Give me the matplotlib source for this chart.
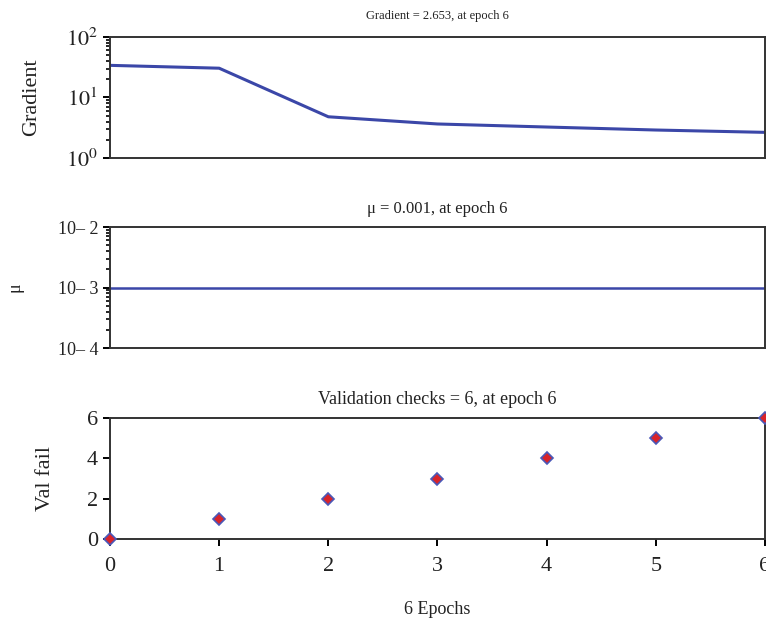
import matplotlib
matplotlib.use("Agg")
import matplotlib.pyplot as plt
from matplotlib.ticker import LogLocator, FixedLocator, FixedFormatter, NullFormatter

plt.rcParams['font.family'] = ['Liberation Serif', 'DejaVu Serif']
plt.rcParams['mathtext.fontset'] = 'stix'

# training record
epochs = [0, 1, 2, 3, 4, 5, 6]
gradient = [34.0, 30.5, 4.8, 3.65, 3.25, 2.9, 2.653]
mu = [0.001, 0.001, 0.001, 0.001, 0.001, 0.001, 0.001]
val_fail = [0, 1, 2, 3, 4, 5, 6]

line_col = '#3b47a8'
spine_col = '#333333'
txt_col = '#222222'

fig = plt.figure(figsize=(7.66, 6.21), dpi=100)
left, width = 0.1436, 0.855
ax1 = fig.add_axes([left, 0.7456, width, 0.1948])
ax2 = fig.add_axes([left, 0.4396, width, 0.1948])
ax3 = fig.add_axes([left, 0.132, width, 0.1948])

for ax in (ax1, ax2, ax3):
    ax.set_xlim(0, 6)
    for s in ax.spines.values():
        s.set_color(spine_col)
        s.set_linewidth(1.4)
    ax.tick_params(axis='both', which='both', direction='out', colors='black',
                   labelcolor=txt_col, labelsize=16)
    ax.tick_params(which='major', length=5, width=1.4)
    ax.tick_params(which='minor', length=3, width=1.2)

# gradient
ax1.semilogy(epochs, gradient, color=line_col, lw=2.2)
ax1.set_ylim(1, 100)
ax1.yaxis.set_major_locator(FixedLocator([1, 10, 100]))
ax1.yaxis.set_major_formatter(FixedFormatter([r'$10^0$', r'$10^1$', r'$10^2$']))
ax1.yaxis.set_minor_locator(LogLocator(base=10, subs=range(2, 10)))
ax1.yaxis.set_minor_formatter(NullFormatter())
ax1.set_xticks([])
ax1.set_title('Gradient = 2.653, at epoch 6', fontsize=9, color=txt_col, pad=13)
ax1.set_ylabel('Gradient', fontsize=16, color=txt_col)
ax1.yaxis.set_label_coords(-0.105, 0.5)

# mu
ax2.semilogy(epochs, mu, color=line_col, lw=1.8)
ax2.set_ylim(1e-4, 1e-2)
ax2.yaxis.set_major_locator(FixedLocator([1e-4, 1e-3, 1e-2]))
ax2.yaxis.set_major_formatter(FixedFormatter(['10– 4', '10– 3', '10– 2']))
ax2.yaxis.set_minor_locator(LogLocator(base=10, subs=range(2, 10)))
ax2.yaxis.set_minor_formatter(NullFormatter())
ax2.tick_params(axis='y', labelsize=13)
ax2.set_xticks([])
ax2.set_title('μ = 0.001, at epoch 6', fontsize=12, color=txt_col, pad=10)
ax2.set_ylabel('μ', fontsize=13, color=txt_col)
ax2.yaxis.set_label_coords(-0.132, 0.5)

# validation checks
ax3.plot(epochs, val_fail, linestyle='none', marker='D', markersize=6,
         markerfacecolor='#d8232a', markeredgecolor='#4a58b8', markeredgewidth=1.2,
         clip_on=False, zorder=5)
ax3.set_ylim(0, 6)
ax3.set_yticks([0, 2, 4, 6])
ax3.set_xticks(epochs)
ax3.tick_params(axis='x', pad=8)
ax3.set_title('Validation checks = 6, at epoch 6', fontsize=13, color=txt_col, pad=10)
ax3.set_ylabel('Val fail', fontsize=16, color=txt_col)
ax3.yaxis.set_label_coords(-0.084, 0.5)
ax3.set_xlabel('6 Epochs', fontsize=13, color=txt_col, labelpad=18)

fig.savefig('out.png', dpi=100)
